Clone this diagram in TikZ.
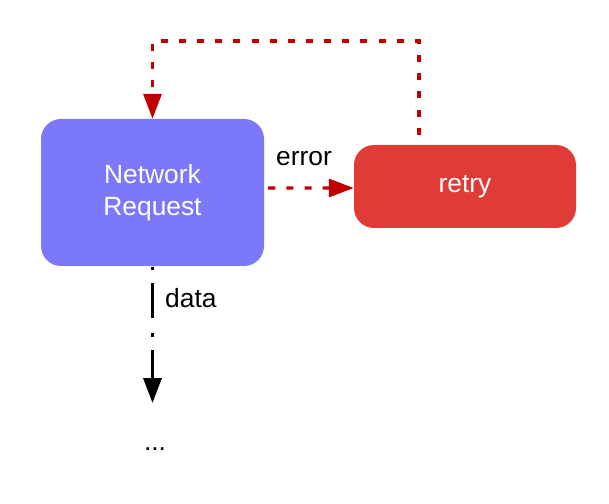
\documentclass[tikz,border=0pt]{standalone}
\usepackage{fontspec}
\setmainfont{Liberation Sans}
\usetikzlibrary{arrows.meta}
\definecolor{reqblue}{RGB}{124,120,250}
\definecolor{retryred}{RGB}{224,60,55}
\definecolor{linered}{RGB}{192,0,0}
\begin{document}
\begin{tikzpicture}[
    box/.style={rounded corners=0.6cm, inner sep=0pt, align=center, text=white,
                font=\fontsize{22.5}{27.3}\selectfont},
    label/.style={font=\fontsize{22.5}{27.3}\selectfont, inner sep=0pt},
    tip/.style={-{Triangle[length=0.75cm, width=0.54cm]}},
    redline/.style={tip, linered, line width=0.1cm, dash pattern=on 6pt off 9.5pt},
    dataline/.style={tip, black, line width=0.1cm,
                     dash pattern=on 2.6pt off 11pt on 30pt off 12.8pt on 3.4pt off 11pt on 200pt}
  ]
      \useasboundingbox (0,0) rectangle (18.27,15.09);

      \node[box, fill=reqblue, minimum width=6.69cm, minimum height=4.41cm] at (4.575, 9.315)  (req)  {Network\\Request};
      \node[box, fill=retryred, minimum width=6.66cm, minimum height=2.49cm] at (13.95, 9.495)  (ret)  {retry};
      \node[label, anchor=base] at (9.12, 10.11)  (err)  {error};
      \node[label, anchor=base west] at (4.95, 5.85)  (dat)  {data};
      \node[label] at (4.65, 1.62)  (dots)  {...};
      \coordinate (loop) at (4.575, 13.86);
      \coordinate (out) at (4.575, 3.0);

      \draw[redline]  ([xshift=0.12cm, yshift=0.135cm]req.east) -- ([yshift=-0.045cm]ret.west);
      \draw[redline]  ([xshift=-1.38cm, yshift=0.3cm]ret.north) |- (loop) -- (req.north);
      \draw[dataline]  ([yshift=-0.03cm]req.south) -- (out);
    \end{tikzpicture}
\end{document}
